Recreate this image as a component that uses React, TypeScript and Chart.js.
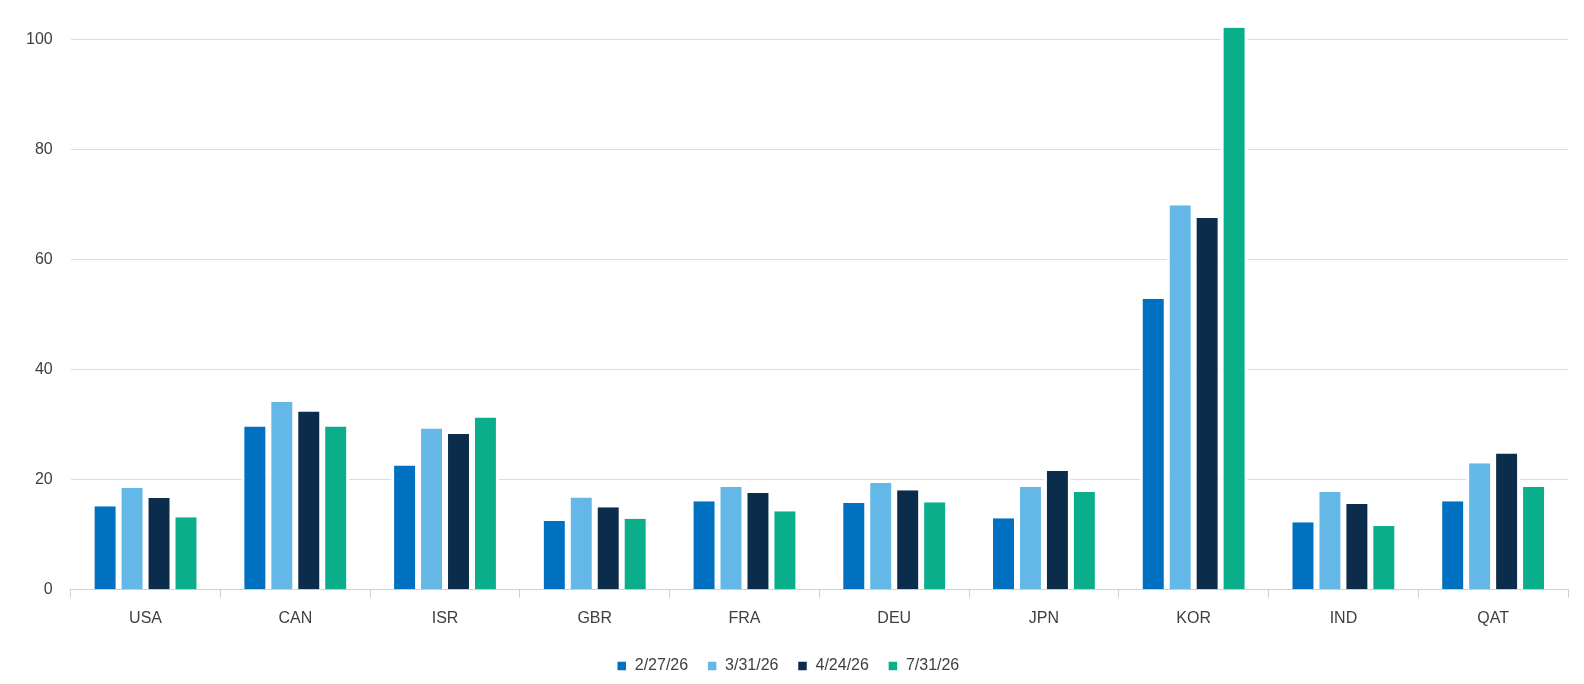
import React, { useEffect, useRef } from "react";
import { Chart, registerables } from "chart.js";
Chart.register(...registerables);

const categories = ["USA", "CAN", "ISR", "GBR", "FRA", "DEU", "JPN", "KOR", "IND", "QAT"];
const seriesNames = ["2/27/26", "3/31/26", "4/24/26", "7/31/26"];
const s1 = [15.2, 29.7, 22.6, 12.5, 16.1, 15.8, 13.0, 52.9, 12.3, 16.1];
const s2 = [18.5, 34.2, 29.3, 16.8, 18.7, 19.4, 18.7, 69.9, 17.8, 23.0];
const s3 = [16.7, 32.4, 28.3, 15.0, 17.6, 18.1, 21.6, 67.6, 15.6, 24.8];
const s4 = [13.2, 29.7, 31.3, 12.9, 14.3, 15.9, 17.8, 102.2, 11.6, 18.7];
const colors = ["#0070C0", "#63B8E8", "#0B2D4B", "#0BAE8B"];

export default function App() {
  const ref = useRef<HTMLCanvasElement>(null);
  useEffect(() => {
    const data = [s1, s2, s3, s4];
    const chart = new Chart(ref.current!, {
      type: "bar",
      data: {
        labels: categories,
        datasets: seriesNames.map((n, i) => ({
          label: n,
          data: data[i],
          backgroundColor: colors[i],
          borderColor: "#ffffff",
          borderWidth: { left: 3, right: 3, top: 0, bottom: 0 } as any,
          categoryPercentage: 0.72,
          barPercentage: 1,
        })),
      },
      options: {
        animation: false,
        responsive: true,
        maintainAspectRatio: false,
        layout: { padding: { top: 18, right: 16, left: 8, bottom: 0 } },
        plugins: {
          legend: {
            position: "bottom",
            labels: { boxWidth: 10, boxHeight: 10, color: "#404040", font: { size: 16, family: "Liberation Sans" }, padding: 19 },
          },
          tooltip: { enabled: false },
        },
        scales: {
          x: {
            grid: { display: true, drawOnChartArea: false, offset: true, color: "#d0d0d0", tickLength: 8 },
            border: { color: "#d0d0d0" },
            ticks: { color: "#404040", padding: 11, font: { size: 16, family: "Liberation Sans" } },
          },
          y: {
            min: 0,
            max: 102.2,
            afterBuildTicks: (ax: any) => { ax.ticks = [0, 20, 40, 60, 80, 100].map((v) => ({ value: v })); },
            grid: { color: "#dcdcdc", drawTicks: false },
            border: { display: false },
            ticks: { color: "#404040", padding: 18, font: { size: 16, family: "Liberation Sans" } },
          },
        },
      },
    });
    return () => chart.destroy();
  }, []);
  return (
    <div style={{ position: "fixed", left: 0, top: 0, width: 1584, height: 684, background: "#fff" }}>
      <canvas ref={ref} />
    </div>
  );
}
